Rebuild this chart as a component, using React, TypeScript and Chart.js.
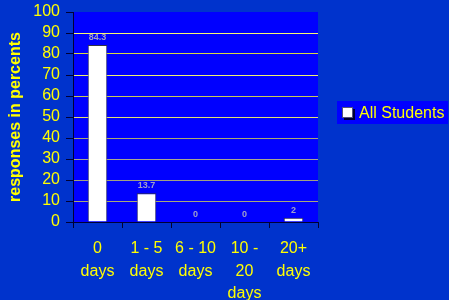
import React, { useEffect, useRef } from "react";
import { Chart, registerables } from "chart.js";

Chart.register(...registerables);

const categories: string[][] = [["0", "days"], ["1 - 5", "days"], ["6 - 10", "days"], ["10 -", "20", "days"], ["20+", "days"]];
const seriesLabel = "All Students";
const seriesValues = [84.3, 13.7, 0, 0, 2];
const yTicks = [0, 10, 20, 30, 40, 50, 60, 70, 80, 90, 100];
const gridColors: Record<number, string> = {
  10: "#A8A878",
  20: "#A0A080",
  30: "#A8A890",
  40: "#A8A870",
  50: "#E0E070",
  60: "#C8C858",
  70: "#F0F070",
  80: "#D8D840",
  90: "#F8F870",
};

const YELLOW = "#FFFF00";
const FONT = "Arial, 'Liberation Sans', sans-serif";

const bgPlugin = {
  id: "bgPlugin",
  beforeDraw(chart: any) {
    const { ctx, chartArea } = chart;
    ctx.save();
    ctx.fillStyle = "#0033CC";
    ctx.fillRect(0, 0, chart.width, chart.height);
    ctx.fillStyle = "#0000FF";
    ctx.fillRect(chartArea.left, chartArea.top, chartArea.right - chartArea.left, chartArea.bottom - chartArea.top);
    ctx.restore();
  },
};

const valueLabels = {
  id: "valueLabels",
  afterDatasetsDraw(chart: any) {
    const { ctx } = chart;
    const meta = chart.getDatasetMeta(0);
    ctx.save();
    ctx.font = `bold 9px ${FONT}`;
    ctx.fillStyle = "#A0A0C8";
    ctx.textAlign = "center";
    ctx.textBaseline = "bottom";
    meta.data.forEach((bar: any, i: number) => {
      ctx.fillText(String(seriesValues[i]), bar.x, bar.y - 3);
    });
    ctx.restore();
  },
};

const customLegend = {
  id: "customLegend",
  afterDraw(chart: any) {
    const { ctx, chartArea } = chart;
    const x = chartArea.right + 19;
    const cy = 113;
    ctx.save();
    ctx.fillStyle = "#0000FF";
    ctx.fillRect(x, cy - 12, 111, 23);
    ctx.fillStyle = "#000033";
    ctx.fillRect(x + 7, cy - 4, 11, 11);
    ctx.fillStyle = "#FFFFFF";
    ctx.fillRect(x + 5, cy - 6, 11, 11);
    ctx.strokeStyle = "#555577";
    ctx.lineWidth = 1;
    ctx.strokeRect(x + 5.5, cy - 5.5, 10, 10);
    ctx.font = `16px ${FONT}`;
    ctx.fillStyle = YELLOW;
    ctx.textAlign = "left";
    ctx.textBaseline = "middle";
    ctx.fillText(chart.data.datasets[0].label, x + 22, cy + 1);
    ctx.restore();
  },
};

export default function App() {
  const ref = useRef<HTMLCanvasElement>(null);
  useEffect(() => {
    document.body.style.margin = "0";
    const chart = new Chart(ref.current!, {
      type: "bar",
      data: {
        labels: categories,
        datasets: [
          {
            label: seriesLabel,
            data: seriesValues,
            backgroundColor: "#FFFFFF",
            borderColor: "#333344",
            borderWidth: 1,
            barPercentage: 0.4,
            categoryPercentage: 1,
          },
        ],
      },
      options: {
        responsive: false,
        animation: false,
        layout: { padding: { top: 12, right: 131, left: 0, bottom: 0 } },
        plugins: { legend: { display: false }, tooltip: { enabled: false } },
        scales: {
          x: {
            offset: true,
            afterFit(scale: any) {
              scale.height = 78;
              scale.paddingLeft = 0;
              scale.paddingRight = 0;
            },
            grid: {
              offset: true,
              drawOnChartArea: false,
              tickLength: 6,
              tickColor: "#000033",
            },
            border: { color: "#000033", width: 1 },
            ticks: {
              color: YELLOW,
              font: { family: FONT, size: 16, lineHeight: 1.38 },
              padding: 10,
              maxRotation: 0,
              autoSkip: false,
            },
          },
          y: {
            min: 0,
            max: 100,
            afterBuildTicks(scale: any) {
              scale.ticks = yTicks.map((v) => ({ value: v }));
            },
            afterFit(scale: any) {
              scale.width = 73;
              scale.paddingTop = 0;
              scale.paddingBottom = 0;
            },
            grid: {
              color: (c: any) => gridColors[c.tick?.value] ?? "rgba(0,0,0,0)",
              tickColor: "#000033",
              tickLength: 7,
              lineWidth: 1,
            },
            border: { color: "#000033", width: 1 },
            ticks: {
              color: YELLOW,
              font: { family: FONT, size: 16 },
              padding: 6,
              autoSkip: false,
            },
            title: {
              display: true,
              text: "responses in percents",
              color: YELLOW,
              font: { family: FONT, size: 16, weight: "bold" },
              padding: { top: 6, bottom: 0 },
            },
          },
        },
      },
      plugins: [bgPlugin, valueLabels, customLegend],
    });
    return () => chart.destroy();
  }, []);
  return (
    <div style={{ width: 449, height: 300 }}>
      <canvas ref={ref} width={449} height={300} style={{ display: "block" }} />
    </div>
  );
}
